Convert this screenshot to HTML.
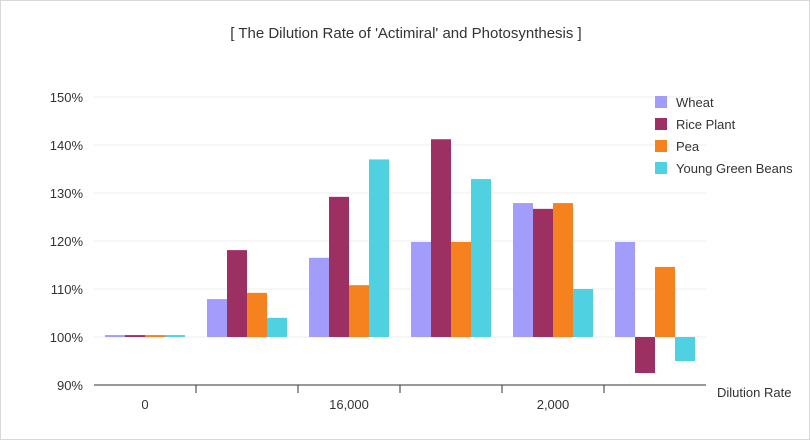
<!DOCTYPE html>
<html><head><meta charset="utf-8"><style>
body{margin:0;background:#fff;font-family:"Liberation Sans",sans-serif;}
#wrap{position:relative;width:808px;height:438px;border:1px solid #d8d8d8;background:#fff;}
svg text{font-family:"Liberation Sans",sans-serif;fill:#333;}
</style></head><body>
<div id="wrap">
<svg id="chart" width="810" height="440">
<text x="405" y="37" text-anchor="middle" font-size="15">[ The Dilution Rate of 'Actimiral' and Photosynthesis ]</text>
</svg>
</div>
<script>
const categories=["0","8,000","16,000","4,000","2,000","1,000"];
const shownLabels=[true,false,true,false,true,false];
const seriesNames=["Wheat","Rice Plant","Pea","Young Green Beans"];
const wheat=[100.4,107.9,116.5,119.8,127.9,119.8];
const rice=[100.4,118.1,129.2,141.2,126.7,92.5];
const pea=[100.4,109.2,110.8,119.8,127.9,114.6];
const youngGreenBeans=[100.4,104,137,132.9,110,95];
const yTicks=[90,100,110,120,130,140,150];
const colors=["#a29dfb","#9c3063","#f5821f","#4fd1e1"];
const series=[wheat,rice,pea,youngGreenBeans];
const NS="http://www.w3.org/2000/svg";
const svg=document.getElementById('chart');
const x0=93,x1=705,yTop=96,yBot=384,vMin=90,vMax=150;
const y=v=>yBot-(v-vMin)/(vMax-vMin)*(yBot-yTop);
const gw=(x1-x0)/categories.length;
function mk(t,a){const e=document.createElementNS(NS,t);for(const k in a)e.setAttribute(k,a[k]);svg.appendChild(e);return e;}
yTicks.forEach(t=>{
 if(t!==vMin){const l=mk('line',{x1:x0,x2:x1,y1:y(t),y2:y(t),stroke:'#eeeeee'});
 
 }
 const tx=mk('text',{x:82,y:y(t)+5,'text-anchor':'end','font-size':13});
 tx.textContent=t+'%';
 
 
});
const ax=mk('line',{x1:x0,x2:x1,y1:yBot,y2:yBot,stroke:'#333'});


for(let i=1;i<categories.length;i++){
 const t=mk('line',{x1:x0+i*gw,x2:x0+i*gw,y1:yBot,y2:yBot+8,stroke:'#333'});
 
 
}
categories.forEach((c,i)=>{
 if(shownLabels[i]){const t=mk('text',{x:x0+gw*i+gw/2,y:408,'text-anchor':'middle','font-size':13});
 t.textContent=c;
 
 }
 series.forEach((s,j)=>{
  const v=s[i];const top=Math.min(y(v),y(100)),h=Math.abs(y(v)-y(100));
  const r=mk('rect',{x:x0+gw*i+11+j*20,y:top,width:20,height:Math.max(h,1),fill:colors[j]});
  
  
 });
});
const xt=mk('text',{x:716,y:396,'font-size':13});
xt.textContent='Dilution Rate';


seriesNames.forEach((n,j)=>{
 const r=mk('rect',{x:654,y:95+j*22,width:12,height:12,fill:colors[j]});
 
 
 const t=mk('text',{x:675,y:106+j*22,'font-size':13});
 t.textContent=n;
 
 
});
</script>
</body></html>
